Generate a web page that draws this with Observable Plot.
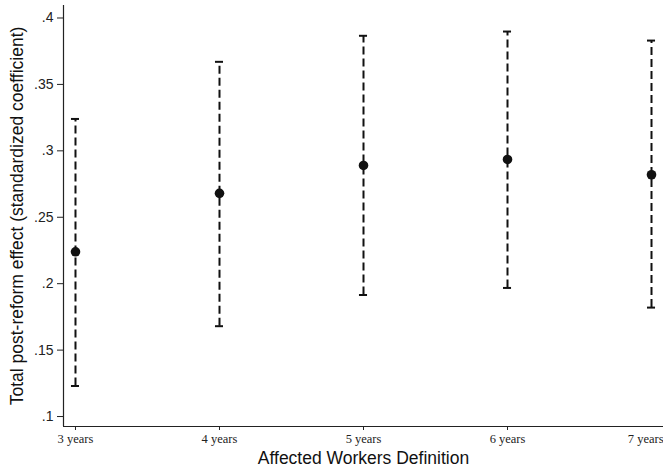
<!DOCTYPE html>
<html>
<head>
<meta charset="utf-8">
<script src="https://cdn.jsdelivr.net/npm/d3@7"></script>
<script src="https://cdn.jsdelivr.net/npm/@observablehq/plot@0.6"></script>
<style>
  html, body { margin: 0; padding: 0; background: #fff; }
  #chart svg { display: block; }
</style>
</head>
<body>
<div id="chart"></div>
<script>
const categories = [3, 4, 5, 6, 7];
const categoryLabels = ["3 years", "4 years", "5 years", "6 years", "7 years"];
const estimates = [0.224, 0.268, 0.289, 0.2935, 0.282];
const lower = [0.123, 0.168, 0.1915, 0.1968, 0.182];
const upper = [0.324, 0.367, 0.3866, 0.3898, 0.383];
const yTicks = [0.1, 0.15, 0.2, 0.25, 0.3, 0.35, 0.4];
const yTickLabels = [".1", ".15", ".2", ".25", ".3", ".35", ".4"];
const xTitle = "Affected Workers Definition";
const yTitle = "Total post-reform effect (standardized coefficient)";

const data = categories.map((k, i) => ({k, est: estimates[i], lo: lower[i], hi: upper[i]}));

const xDomain = [2.9167, 7.0833];
const yDomain = [0.0925, 0.4094];
const capHalf = 0.028;
const ink = "#111";
const lastCat = categories[categories.length - 1];
const fmtX = (d) => categoryLabels[categories.indexOf(d)] ?? "";
const xAxisOpts = {
  tickSize: 4,
  tickPadding: 4,
  label: null,
  fontSize: 12.5,
  fontFamily: "Liberation Serif, Times New Roman, serif",
  stroke: "#222",
  tickFormat: fmtX
};

const chart = Plot.plot({
  width: 663,
  height: 467,
  marginLeft: 63,
  marginRight: 0,
  marginTop: 5,
  marginBottom: 41,
  style: {background: "#fff", color: "#222"},
  x: {type: "linear", domain: xDomain},
  y: {type: "linear", domain: yDomain},
  marks: [
    Plot.axisY({
      ticks: yTicks,
      tickFormat: (d) => yTickLabels[yTicks.indexOf(d)] ?? "",
      tickSize: 6,
      tickPadding: 4,
      label: null,
      fontSize: 14,
      fontFamily: "Liberation Sans, Arial, sans-serif",
      stroke: "#222"
    }),
    Plot.axisX({...xAxisOpts, ticks: categories.slice(0, -1)}),
    Plot.axisX({...xAxisOpts, ticks: [lastCat], textAnchor: "end", dx: 12}),
    Plot.ruleX([xDomain[0]], {stroke: "#222", strokeWidth: 1.2}),
    Plot.ruleY([yDomain[0]], {stroke: "#222", strokeWidth: 1.2}),
    Plot.ruleX(data, {x: "k", y1: "lo", y2: "hi", stroke: ink, strokeWidth: 2, strokeDasharray: "8,4"}),
    Plot.ruleY(data, {y: "hi", x1: (d) => d.k - capHalf, x2: (d) => d.k + capHalf, stroke: ink, strokeWidth: 2}),
    Plot.ruleY(data, {y: "lo", x1: (d) => d.k - capHalf, x2: (d) => d.k + capHalf, stroke: ink, strokeWidth: 2}),
    Plot.dot(data, {x: "k", y: "est", r: 4.8, fill: ink, stroke: null}),
    Plot.text([xTitle], {frameAnchor: "bottom", dy: 32, textAnchor: "middle", lineAnchor: "middle", fontSize: 17.5, fontFamily: "Liberation Sans, Arial, sans-serif", fill: "#111"}),
    Plot.text([yTitle], {frameAnchor: "left", dx: -46, rotate: -90, textAnchor: "middle", lineAnchor: "middle", fontSize: 17.5, fontFamily: "Liberation Sans, Arial, sans-serif", fill: "#111"})
  ]
});
document.getElementById("chart").appendChild(chart);
</script>
</body>
</html>
